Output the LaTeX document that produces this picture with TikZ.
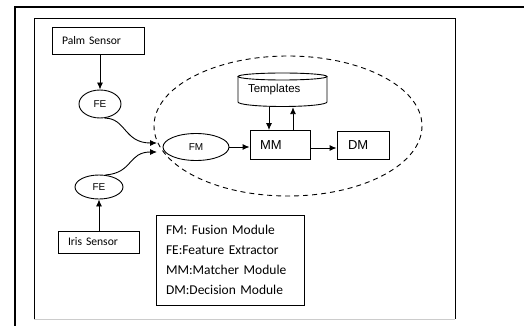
\documentclass[tikz,border=0pt]{standalone}
\usepackage{fontspec}
\setmainfont{Liberation Sans}
\newfontfamily\calfont{Carlito}
\usetikzlibrary{arrows.meta,calc,shapes.geometric}
\begin{document}
\begin{tikzpicture}[x=1pt,y=-1pt,
  thinbox/.style={draw, line width=0.9pt, inner sep=0pt, anchor=center},
  ellnode/.style={draw, ellipse, line width=0.9pt, inner sep=0pt, anchor=center, font=\fontsize{10}{12}\selectfont},
  arr/.style={-{Latex[length=7pt,width=6pt]}, line width=0.9pt},
  sensorfont/.style={font=\calfont\fontsize{11.6}{13}\selectfont},
  bigfont/.style={font=\fontsize{13}{15}\selectfont}]
\useasboundingbox (0,0) rectangle (524,326);
% frames
\draw[line width=2pt] (15,326) -- (15,7) -- (524,7);
\draw[line width=0.9pt] (34,319) -- (34,18) -- (455,18) -- (455,319);
\draw[black!20, line width=0.8pt] (34,319) -- (455,319);
% dashed region
\draw[dashed, dash pattern=on 5pt off 4pt, line width=0.9pt] (288,126) ellipse[x radius=134, y radius=70];
% sensors
\node[thinbox, sensorfont, minimum width=92pt, minimum height=27pt, text width=72pt, align=left] (palm) at (98,40.5) {Palm Sensor};
\node[thinbox, sensorfont, minimum width=81pt, minimum height=22pt, text width=61pt, align=left] (iris) at (98.5,242) {Iris Sensor};
% feature extractors
\node[ellnode, minimum width=42pt, minimum height=28pt] (fe1) at (100,104) {FE};
\node[ellnode, minimum width=48pt, minimum height=24pt] (fe2) at (99,187) {FE};
% fusion, matcher, decision
\node[ellnode, minimum width=66pt, minimum height=27pt] (fm) at (196,147) {FM};
\node[thinbox, bigfont, minimum width=60pt, minimum height=29pt, text width=40pt, align=left] (mm) at (280,145) {MM};
\node[thinbox, bigfont, minimum width=52pt, minimum height=28pt, text width=30pt, align=left] (dm) at (363,145) {DM};
% templates cylinder
\fill[white] (238,76.5) -- (238,102) arc[start angle=180, end angle=0, x radius=44.5, y radius=4.5] -- (327,76.5) -- cycle;
\draw[line width=0.9pt] (238,76.5) -- (238,102) arc[start angle=180, end angle=0, x radius=44.5, y radius=4.5] -- (327,76.5);
\draw[line width=0.9pt] (282.5,76.5) ellipse[x radius=44.5, y radius=3.5];
\node[inner sep=0pt, minimum width=89pt, minimum height=34pt, text width=69pt, align=left, font=\fontsize{11.5}{13}\selectfont] (tmpl) at (282.5,90) {Templates};
% legend
\node[thinbox, font=\calfont\fontsize{13.5}{20}\selectfont, minimum width=148pt, minimum height=90pt, text width=128pt, align=left] (legend) at (230,260) {FM: Fusion Module\\FE:Feature Extractor\\MM:Matcher Module\\DM:Decision Module};
% connectors
\coordinate (tip1) at (157,143);
\coordinate (tip2) at (157,152);
\draw[arr] (fe1.north |- palm.south) -- (fe1.north);
\draw[arr] (fe2.south |- iris.north) -- (fe2.south);
\draw[arr] (fe1.-72) .. controls (126,118) and (124,143) .. (tip1);
\draw[arr] (fe2.62) .. controls (133,173) and (128,152) .. (tip2);
\draw[arr] (fm.east) -- (fm.east -| mm.west);
\draw[arr] ([yshift=-3pt]mm.east) -- ([yshift=-3pt]mm.east -| dm.west);
\draw[arr] ([xshift=-11pt]mm.north |- tmpl.south) -- ([xshift=-11pt]mm.north);
\draw[arr] ([xshift=13pt]mm.north) -- ([xshift=13pt]mm.north |- tmpl.south);
\end{tikzpicture}
\end{document}
